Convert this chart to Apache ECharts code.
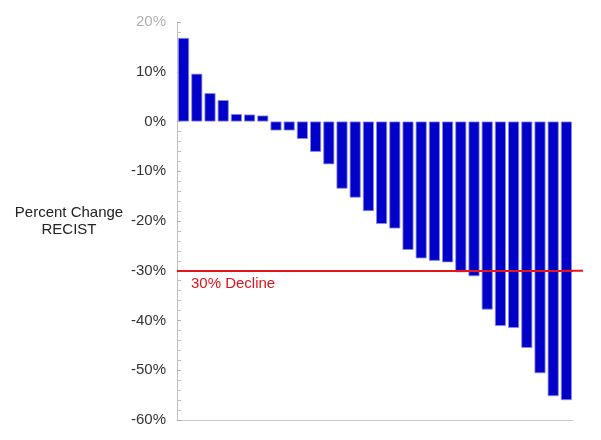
<!DOCTYPE html>
<html>
<head>
    <meta charset="utf-8" />
    <script src="https://cdn.jsdelivr.net/npm/echarts@6/dist/echarts.min.js"></script>
</head>
<body style="margin:0">
    <div id="main" style="width:601px;height:440px"></div>
    <script type="text/javascript">
        // one bar per patient, sorted (waterfall), percent change in RECIST
        const patients = Array.from({ length: 30 }, (_, i) => 'P' + (i + 1));
        const changes = [16.8, 9.6, 5.7, 4.3, 1.5, 1.4, 1.2, -1.8, -1.8, -3.5,
            -6.1, -8.6, -13.5, -15.3, -18.0, -20.6, -21.5, -25.8, -27.5, -28.0,
            -28.3, -30.3, -31.1, -37.8, -41.1, -41.5, -45.5, -50.6, -55.2, -56.0];
        const declineLevel = -30;
        const declineLabel = '30% Decline';
        const axisTitle = 'Percent Change\nRECIST';

        var chart = echarts.init(document.getElementById('main'), null, { renderer: 'canvas' });
        chart.setOption({
            animation: false,
            textStyle: { fontFamily: 'Liberation Sans' },
            grid: { left: 177, right: 28, top: 22, bottom: 20 },
            xAxis: {
                type: 'category',
                data: patients,
                axisLine: { onZero: false, lineStyle: { color: '#c8c8c8' } },
                axisTick: { show: false },
                axisLabel: { show: false },
            },
            yAxis: {
                type: 'value',
                min: -60,
                max: 20,
                interval: 10,
                axisLine: { show: true, lineStyle: { color: '#c0c0c0' } },
                axisTick: { show: true, inside: true, length: 4, lineStyle: { color: '#b0b0b0' } },
                minorTick: { show: true, splitNumber: 5, length: 4, lineStyle: { color: '#c0c0c0' } },
                splitLine: { show: false },
                axisLabel: {
                    margin: 11,
                    fontSize: 15,
                    color: (v) => (v == 20 ? '#b0b0b0' : '#333'),
                    formatter: (v) => v + '%',
                },
            },
            graphic: [{
                type: 'text',
                x: 69,
                y: 204,
                style: {
                    text: axisTitle,
                    font: '15px "Liberation Sans"',
                    fill: '#222',
                    align: 'center',
                    lineHeight: 17,
                },
            }],
            series: [{
                type: 'bar',
                data: changes,
                barWidth: 11,
                itemStyle: { color: '#0000c8', borderColor: '#8a8ae6', borderWidth: 0.8 },
                markLine: {
                    silent: true,
                    symbol: ['none', 'rect'],
                    symbolSize: [2, 20],
                    lineStyle: { color: '#e8141a', width: 2, type: 'solid' },
                    itemStyle: { color: '#e8141a' },
                    label: {
                        position: 'insideStartBottom',
                        formatter: declineLabel,
                        color: '#e0141a',
                        fontSize: 15,
                        distance: [14, 6],
                    },
                    data: [{ yAxis: declineLevel }],
                },
            }],
        });
    </script>
</body>
</html>
